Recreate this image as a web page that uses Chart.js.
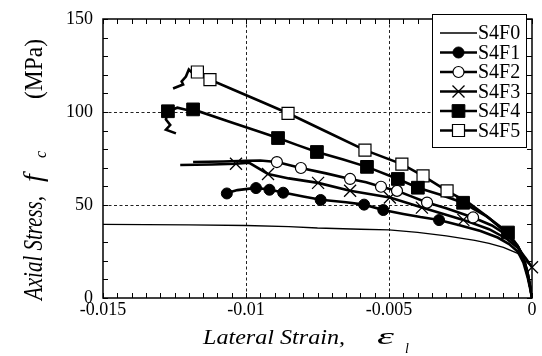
<!DOCTYPE html>
<html><head><meta charset="utf-8">
<script src="https://cdn.jsdelivr.net/npm/chart.js"></script>
<style>html,body{margin:0;padding:0;background:#fff;}canvas{display:block;}</style>
</head><body>
<canvas id="c" width="542" height="356"></canvas>
<script>
const seriesNames = ['S4F0','S4F1','S4F2','S4F3','S4F4','S4F5'];
const xTickValues = [-0.015, -0.01, -0.005, 0];
const xTickLabels = ['-0.015', '-0.01', '-0.005', '0'];
const yTickValues = [0, 50, 100, 150];
const yTickLabels = ['0', '50', '100', '150'];

const strainF0 = [-0.015, -0.012, -0.01, -0.0085, -0.0075, -0.006, -0.005, -0.004, -0.003, -0.002, -0.0015, -0.001, -0.0005, -0.0003, -0.00015, -0.00007, -0.00002, 0];
const stressF0 = [39.6, 39.3, 39.0, 38.4, 37.6, 37.0, 36.6, 35.3, 33.4, 31.0, 29.4, 27.2, 24.0, 21.0, 15.0, 8.0, 2.5, 0];

const strainF1 = [-0.01075, -0.0103, -0.00965, -0.0092, -0.0087, -0.008, -0.00738, -0.0065, -0.00587, -0.0052, -0.0045, -0.0039, -0.00325, -0.0025, -0.0018, -0.0012, -0.0008, -0.0005, -0.0003, -0.00015, -0.00005, 0];
const stressF1 = [56.0, 58.0, 59.2, 58.3, 56.7, 54.6, 52.8, 51.5, 50.2, 47.3, 45.2, 43.5, 41.9, 39.0, 36.0, 32.5, 29.0, 25.0, 19.0, 11.0, 4.0, 0];
const markStrainF1 = [-0.01067, -0.00965, -0.00918, -0.0087, -0.00739, -0.00587, -0.0052, -0.00325];
const markStressF1 = [56.2, 59.1, 58.2, 56.6, 52.7, 50.2, 47.3, 41.9];

const strainF2 = [-0.01185, -0.0108, -0.01, -0.0095, -0.00892, -0.00808, -0.0072, -0.00636, -0.0058, -0.00528, -0.00472, -0.0042, -0.00367, -0.003, -0.00206, -0.0014, -0.0009, -0.0005, -0.0003, -0.00015, -0.00005, 0];
const stressF2 = [73.1, 73.4, 73.8, 73.9, 73.1, 69.9, 67.0, 64.0, 62.2, 59.8, 57.6, 54.5, 51.3, 48.2, 43.3, 39.0, 34.0, 28.0, 21.0, 12.0, 5.0, 0];
const markStrainF2 = [-0.00892, -0.00808, -0.00636, -0.00528, -0.00472, -0.00367, -0.00206];
const markStressF2 = [73.1, 69.9, 64.0, 59.8, 57.6, 51.3, 43.3];

const strainF3 = [-0.0123, -0.0112, -0.01035, -0.0099, -0.00923, -0.0085, -0.00748, -0.00636, -0.00497, -0.00385, -0.0024, -0.0015, -0.0009, -0.0005, -0.0002, 0];
const stressF3 = [71.5, 71.8, 72.2, 72.8, 66.7, 64.3, 61.9, 57.7, 54.0, 48.6, 42.0, 37.0, 32.0, 27.0, 21.0, 16.5];
const markStrainF3 = [-0.01035, -0.00923, -0.00748, -0.00636, -0.00497, -0.00385, -0.0024, 0];
const markStressF3 = [72.2, 66.7, 61.9, 57.7, 54.0, 48.6, 42.0, 16.5];

const strainF4 = [-0.01245, -0.0128, -0.01265, -0.0128, -0.01273, -0.0124, -0.0121, -0.01185, -0.0105, -0.0095, -0.00888, -0.0082, -0.00752, -0.0066, -0.00577, -0.00469, -0.00399, -0.0032, -0.00241, -0.0016, -0.00084, -0.0005, -0.0003, -0.00015, -0.00005, 0];
const stressF4 = [88.5, 90.5, 93.0, 96.0, 100.4, 102.3, 101.2, 101.4, 94.4, 89.3, 86.0, 82.2, 78.5, 74.5, 70.5, 64.0, 59.3, 55.5, 51.2, 44.0, 35.2, 28.0, 22.0, 13.0, 5.0, 0];
const markStrainF4 = [-0.01273, -0.01185, -0.00888, -0.00752, -0.00577, -0.00469, -0.00399, -0.00241, -0.00084];
const markStressF4 = [100.4, 101.4, 86.0, 78.5, 70.5, 64.0, 59.3, 51.2, 35.2];

const strainF5 = [-0.01255, -0.0122, -0.01225, -0.0121, -0.012, -0.01185, -0.01165, -0.01154, -0.01126, -0.0105, -0.0095, -0.00853, -0.0072, -0.00584, -0.00455, -0.00381, -0.00297, -0.0022, -0.0015, -0.0009, -0.0005, -0.0003, -0.00015, -0.00005, 0];
const stressF5 = [112.6, 114.8, 116.4, 119.1, 122.8, 120.6, 122.8, 120.5, 117.4, 112.4, 105.8, 99.3, 89.5, 79.5, 72.0, 65.7, 57.6, 51.0, 43.0, 35.0, 28.0, 22.0, 13.0, 5.0, 0];
const markStrainF5 = [-0.0117, -0.01126, -0.00853, -0.00584, -0.00455, -0.00381, -0.00297];
const markStressF5 = [121.5, 117.4, 99.3, 79.5, 72.0, 65.7, 57.6];

const FONT = '"Liberation Serif", "Times New Roman", serif';
const zip = (xs, ys) => xs.map((x, i) => ({x: x, y: ys[i]}));

const markerStyles = [
  null,
  {pointStyle: 'circle', radius: 5.5, fill: '#000', bw: 1},
  {pointStyle: 'circle', radius: 5.5, fill: '#fff', bw: 1.2},
  {pointStyle: 'crossRot', radius: 8.5, fill: '#000', bw: 1.3},
  {pointStyle: 'rect', radius: 9, fill: '#000', bw: 1},
  {pointStyle: 'rect', radius: 8.5, fill: '#fff', bw: 1.2}
];

const lines = [
  [strainF0, stressF0], [strainF1, stressF1], [strainF2, stressF2],
  [strainF3, stressF3], [strainF4, stressF4], [strainF5, stressF5]
];
const marks = [
  null, [markStrainF1, markStressF1], [markStrainF2, markStressF2],
  [markStrainF3, markStressF3], [markStrainF4, markStressF4], [markStrainF5, markStressF5]
];

const datasets = [];
lines.forEach((l, i) => {
  datasets.push({
    label: seriesNames[i], data: zip(l[0], l[1]), showLine: true,
    borderColor: '#000', borderWidth: i === 0 ? 1.4 : 2.6, pointRadius: 0,
    tension: 0, order: 2
  });
});
marks.forEach((m, i) => {
  if (!m) return;
  const s = markerStyles[i];
  datasets.push({
    label: seriesNames[i] + ' markers', data: zip(m[0], m[1]), showLine: false,
    pointStyle: s.pointStyle, pointRadius: s.radius, pointBackgroundColor: s.fill,
    pointBorderColor: '#000', pointBorderWidth: s.bw, clip: false, order: 1
  });
});

function stretchText(ctx, txt, font, x, y, w, rot) {
  ctx.save();
  ctx.font = font; ctx.textBaseline = 'alphabetic'; ctx.textAlign = 'left'; ctx.fillStyle = '#000';
  const m = ctx.measureText(txt).width;
  ctx.translate(x, y);
  if (rot) ctx.rotate(-Math.PI / 2);
  if (w) ctx.scale(w / m, 1);
  ctx.fillText(txt, 0, 0);
  ctx.restore();
}

function drawMarker(ctx, s, x, y) {
  ctx.save();
  ctx.lineWidth = s.bw; ctx.strokeStyle = '#000'; ctx.fillStyle = s.fill;
  ctx.beginPath();
  if (s.pointStyle === 'circle') {
    ctx.arc(x, y, s.radius, 0, Math.PI * 2); ctx.fill(); ctx.stroke();
  } else if (s.pointStyle === 'rect') {
    const h = s.radius * Math.SQRT1_2;
    ctx.rect(x - h, y - h, 2 * h, 2 * h); ctx.fill(); ctx.stroke();
  } else {
    const h = s.radius * Math.SQRT1_2;
    ctx.moveTo(x - h, y - h); ctx.lineTo(x + h, y + h);
    ctx.moveTo(x + h, y - h); ctx.lineTo(x - h, y + h); ctx.stroke();
  }
  ctx.restore();
}

const framePlugin = {
  id: 'frame',
  beforeDatasetsDraw(chart) {
    const ctx = chart.ctx, a = chart.chartArea, xs = chart.scales.x, ys = chart.scales.y;
    ctx.save();
    ctx.strokeStyle = '#222'; ctx.lineWidth = 1; ctx.setLineDash([3, 2.5]);
    xTickValues.forEach(v => {
      const p = Math.round(xs.getPixelForValue(v)) + 0.5;
      if (p <= a.left + 1 || p >= a.right - 1) return;
      ctx.beginPath(); ctx.moveTo(p, a.top); ctx.lineTo(p, a.bottom); ctx.stroke();
    });
    yTickValues.forEach(v => {
      const p = Math.round(ys.getPixelForValue(v)) + 0.5;
      if (p <= a.top + 1 || p >= a.bottom - 1) return;
      ctx.beginPath(); ctx.moveTo(a.left, p); ctx.lineTo(a.right, p); ctx.stroke();
    });
    ctx.restore();
  },
  afterDatasetsDraw(chart) {
    const ctx = chart.ctx, a = chart.chartArea, xs = chart.scales.x, ys = chart.scales.y;
    ctx.save();
    ctx.strokeStyle = '#000'; ctx.lineWidth = 1;
    ctx.beginPath();
    for (let i = 0; i <= 30; i++) {
      const p = Math.round(xs.getPixelForValue(-0.015 + i * 0.0005)) + 0.5;
      ctx.moveTo(p, a.bottom); ctx.lineTo(p, a.bottom - 5);
      ctx.moveTo(p, a.top); ctx.lineTo(p, a.top + 5);
    }
    for (let i = 0; i <= 15; i++) {
      const p = Math.round(ys.getPixelForValue(i * 10)) + 0.5;
      ctx.moveTo(a.left, p); ctx.lineTo(a.left + 5, p);
      ctx.moveTo(a.right, p); ctx.lineTo(a.right - 5, p);
    }
    ctx.stroke();
    ctx.lineWidth = 1.5;
    ctx.strokeRect(a.left, a.top, a.right - a.left, a.bottom - a.top);

    // legend
    const lx = 432, ly = 14, lw = 95, lh = 134;
    ctx.fillStyle = '#fff'; ctx.fillRect(lx, ly, lw, lh);
    ctx.lineWidth = 1; ctx.strokeStyle = '#000';
    ctx.strokeRect(lx + 0.5, ly + 0.5, lw - 1, lh - 1);
    seriesNames.forEach((name, i) => {
      const y = 33 + i * 19.5;
      ctx.beginPath(); ctx.lineWidth = i === 0 ? 1.4 : 2.4;
      ctx.moveTo(440, y); ctx.lineTo(477, y); ctx.stroke();
      if (markerStyles[i]) drawMarker(ctx, markerStyles[i], 458.5, y);
      ctx.fillStyle = '#000'; ctx.font = '20px ' + FONT;
      ctx.textBaseline = 'middle'; ctx.textAlign = 'left';
      ctx.fillText(name, 478, y + 1);
    });
    ctx.restore();
  },
  afterDraw(chart) {
    const ctx = chart.ctx;
    // x title
    stretchText(ctx, 'Lateral Strain,', 'italic 22px ' + FONT, 203, 344, 142, false);
    stretchText(ctx, '\u03B5', 'italic 24px ' + FONT, 377, 344, 17, false);
    stretchText(ctx, 'l', 'italic 14px ' + FONT, 405, 353, null, false);
    // y title (rotated)
    stretchText(ctx, 'Axial Stress,', 'italic 28px ' + FONT, 42, 300, 104, true);
    stretchText(ctx, 'f', 'italic 28px ' + FONT, 42, 182, null, true);
    stretchText(ctx, 'c', 'italic 16px ' + FONT, 46, 158, null, true);
    stretchText(ctx, '(MPa)', '26px ' + FONT, 42, 99, 60, true);
  }
};

new Chart(document.getElementById('c'), {
  type: 'scatter',
  data: {datasets: datasets},
  options: {
    responsive: false, animation: false, devicePixelRatio: 1,
    layout: {padding: {top: 17, right: 10, left: 0, bottom: 0}},
    plugins: {legend: {display: false}, tooltip: {enabled: false}},
    scales: {
      x: {
        type: 'linear', min: -0.015, max: 0,
        afterFit: s => { s.height = 58; },
        afterBuildTicks: s => { s.ticks = xTickValues.map(v => ({value: v})); },
        ticks: {
          color: '#000', font: {family: FONT, size: 18, lineHeight: 1}, padding: 3,
          maxRotation: 0, autoSkip: false,
          callback: v => { const i = xTickValues.findIndex(t => Math.abs(t - v) < 1e-9); return i >= 0 ? xTickLabels[i] : ''; }
        },
        grid: {display: false, drawTicks: false}, border: {display: false}
      },
      y: {
        type: 'linear', min: 0, max: 150,
        afterFit: s => { s.width = 103; },
        afterBuildTicks: s => { s.ticks = yTickValues.map(v => ({value: v})); },
        ticks: {
          color: '#000', font: {family: FONT, size: 18, lineHeight: 1}, padding: 10,
          autoSkip: false,
          callback: v => { const i = yTickValues.findIndex(t => Math.abs(t - v) < 1e-9); return i >= 0 ? yTickLabels[i] : ''; }
        },
        grid: {display: false, drawTicks: false}, border: {display: false}
      }
    }
  },
  plugins: [framePlugin]
});
</script>
</body></html>
